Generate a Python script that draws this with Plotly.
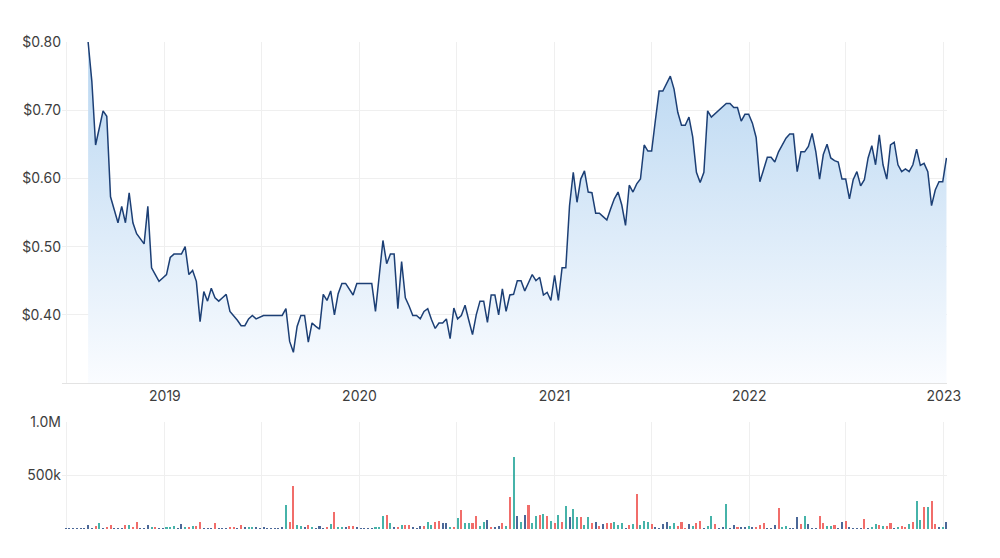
import pandas as pd
import plotly.graph_objects as go

# ---------------- data ----------------
price_start = "2018-08-10"   # weekly closes
price = [
    0.800, 0.742, 0.649, 0.674, 0.699, 0.691, 0.573, 0.554, 0.535, 0.559,
    0.535, 0.579, 0.535, 0.519, 0.512, 0.504, 0.559, 0.469, 0.459, 0.449,
    0.454, 0.459, 0.484, 0.489, 0.489, 0.489, 0.500, 0.459, 0.465, 0.449,
    0.390, 0.434, 0.420, 0.439, 0.425, 0.420, 0.425, 0.430, 0.405, 0.399,
    0.392, 0.384, 0.384, 0.394, 0.399, 0.394, 0.397, 0.399, 0.399, 0.399,
    0.399, 0.399, 0.399, 0.409, 0.361, 0.345, 0.383, 0.399, 0.399, 0.360,
    0.388, 0.383, 0.379, 0.430, 0.421, 0.435, 0.400, 0.431, 0.446, 0.446,
    0.437, 0.429, 0.446, 0.446, 0.446, 0.446, 0.446, 0.405, 0.457, 0.509,
    0.475, 0.489, 0.489, 0.409, 0.478, 0.425, 0.413, 0.399, 0.399, 0.394,
    0.405, 0.409, 0.393, 0.380, 0.388, 0.388, 0.394, 0.365, 0.410, 0.394,
    0.399, 0.414, 0.392, 0.371, 0.400, 0.420, 0.420, 0.389, 0.429, 0.429,
    0.400, 0.438, 0.405, 0.429, 0.430, 0.450, 0.450, 0.435, 0.447, 0.459,
    0.450, 0.455, 0.429, 0.433, 0.421, 0.458, 0.421, 0.469, 0.469, 0.560,
    0.609, 0.565, 0.599, 0.611, 0.580, 0.579, 0.549, 0.549, 0.544, 0.539,
    0.555, 0.570, 0.580, 0.561, 0.531, 0.590, 0.580, 0.592, 0.599, 0.649,
    0.640, 0.640, 0.685, 0.728, 0.728, 0.740, 0.750, 0.731, 0.697, 0.678,
    0.678, 0.690, 0.661, 0.609, 0.594, 0.609, 0.699, 0.690, 0.695, 0.699,
    0.705, 0.710, 0.710, 0.704, 0.704, 0.684, 0.694, 0.694, 0.681, 0.660,
    0.595, 0.613, 0.631, 0.631, 0.624, 0.639, 0.648, 0.659, 0.665, 0.665,
    0.610, 0.639, 0.639, 0.647, 0.666, 0.639, 0.599, 0.635, 0.650, 0.630,
    0.626, 0.624, 0.599, 0.599, 0.570, 0.598, 0.610, 0.589, 0.598, 0.630,
    0.648, 0.620, 0.664, 0.620, 0.599, 0.649, 0.653, 0.620, 0.610, 0.614,
    0.610, 0.620, 0.643, 0.619, 0.622, 0.610, 0.560, 0.583, 0.595, 0.595,
    0.630,
]

volume_start = "2018-06-29"  # weekly volume, in thousands of shares
volume_k = [
    6, 6, 6, 6, 6, 6, 41, 6, 25, 56,
    6, 20, 37, 6, 6, 6, 37, 37, 15, 62,
    6, 6, 37, 15, 15, 6, 6, 15, 15, 25,
    6, 44, 15, 15, 25, 25, 62, 6, 6, 6,
    56, 6, 6, 6, 15, 15, 6, 37, 15, 15,
    15, 15, 6, 15, 10, 10, 10, 10, 15, 225,
    62, 406, 37, 25, 15, 37, 15, 8, 25, 6,
    15, 44, 156, 15, 15, 15, 25, 25, 15, 6,
    6, 6, 6, 15, 15, 118, 134, 56, 15, 15,
    37, 37, 37, 15, 6, 25, 25, 66, 37, 62,
    78, 56, 56, 15, 15, 106, 175, 56, 56, 56,
    125, 25, 66, 87, 15, 15, 25, 56, 25, 297,
    675, 119, 66, 134, 228, 56, 125, 134, 144, 119,
    78, 56, 134, 66, 219, 109, 188, 115, 115, 37,
    109, 56, 66, 25, 44, 56, 56, 66, 37, 56,
    6, 37, 50, 328, 37, 78, 66, 50, 15, 5,
    50, 66, 25, 56, 25, 66, 8, 50, 25, 56,
    78, 6, 25, 125, 50, 8, 15, 238, 6, 37,
    15, 15, 15, 25, 15, 15, 37, 56, 6, 6,
    37, 197, 15, 25, 6, 6, 109, 50, 125, 50,
    6, 6, 125, 56, 25, 25, 37, 6, 66, 78,
    15, 6, 6, 6, 97, 6, 15, 50, 37, 25,
    25, 56, 6, 15, 25, 15, 50, 66, 266, 87,
    206, 206, 266, 50, 15, 15, 66,
]

# u = up week, d = down week, f = unchanged
volume_dir = [
    "f", "f", "f", "f", "f", "f", "f", "f", "d", "u",
    "f", "d", "d", "f", "f", "f", "d", "u", "d", "d",
    "f", "f", "f", "u", "d", "f", "f", "u", "u", "u",
    "f", "f", "u", "d", "u", "d", "d", "f", "f", "f",
    "d", "f", "f", "f", "d", "d", "f", "d", "f", "u",
    "u", "f", "f", "f", "f", "f", "f", "f", "f", "u",
    "d", "d", "u", "u", "f", "d", "u", "f", "f", "f",
    "d", "u", "d", "u", "u", "f", "d", "d", "f", "f",
    "f", "f", "f", "u", "u", "u", "d", "u", "f", "d",
    "u", "d", "d", "f", "f", "f", "d", "u", "u", "d",
    "d", "f", "f", "u", "d", "u", "d", "u", "u", "d",
    "d", "u", "u", "f", "d", "f", "f", "d", "u", "d",
    "u", "f", "u", "f", "d", "u", "u", "d", "u", "d",
    "u", "d", "u", "d", "u", "f", "u", "u", "d", "u",
    "u", "d", "f", "d", "f", "d", "d", "u", "u", "u",
    "f", "d", "u", "d", "u", "u", "u", "d", "f", "f",
    "f", "f", "u", "u", "d", "d", "d", "f", "u", "d",
    "d", "f", "u", "u", "d", "f", "f", "u", "f", "f",
    "d", "f", "f", "u", "f", "d", "d", "d", "f", "f",
    "f", "d", "u", "u", "f", "f", "f", "d", "u", "f",
    "f", "f", "d", "d", "u", "u", "d", "f", "f", "d",
    "f", "f", "f", "f", "d", "f", "u", "u", "d", "u",
    "d", "d", "f", "u", "d", "d", "u", "d", "u", "u",
    "d", "u", "d", "d", "f", "u", "f",
]

price_ticks = [0.40, 0.50, 0.60, 0.70, 0.80]
price_ticktext = ["$0.40", "$0.50", "$0.60", "$0.70", "$0.80"]
volume_ticks = [500000, 1000000]
volume_ticktext = ["500k", "1.0M"]
grid_dates = ["2018-07-01", "2019-01-01", "2019-07-01", "2020-01-01", "2020-07-01",
              "2021-01-01", "2021-07-01", "2022-01-01", "2022-07-01", "2023-01-01"]
grid_labels = ["", "2019", "", "2020", "", "2021", "", "2022", "", "2023"]
x_range = ["2018-06-22", "2023-01-07"]

# ---------------- figure ----------------
price_dates = pd.date_range(price_start, periods=len(price), freq="7D")
volume_dates = pd.date_range(volume_start, periods=len(volume_k), freq="7D")
volume = [v * 1000 for v in volume_k]
dir_colors = {"u": "rgba(38,166,154,0.85)", "d": "rgba(239,83,80,0.85)",
              "f": "rgba(44,78,134,0.85)"}
bar_colors = [dir_colors[d] for d in volume_dir]

GRID = "#efefef"
FONT = dict(family="Inter, 'Open Sans', sans-serif", size=14, color="#3d3d3d")

fig = go.Figure()
fig.add_trace(go.Scatter(
    x=price_dates, y=price, mode="lines",
    line=dict(color="#1c3f75", width=1.5),
    fill="tozeroy",
    fillgradient=dict(type="vertical", start=0.30, stop=0.80,
                      colorscale=[[0, "rgba(250,252,255,1)"], [1, "rgba(184,214,241,1)"]]),
    xaxis="x", yaxis="y", hoverinfo="x+y", showlegend=False,
))
fig.add_trace(go.Bar(
    x=volume_dates, y=volume, marker=dict(color=bar_colors, line=dict(width=0)),
    width=3.3e8, xaxis="x2", yaxis="y2", showlegend=False,
))

axis_common = dict(type="date", range=x_range, tickvals=grid_dates,
                   showgrid=True, gridcolor=GRID, gridwidth=1, zeroline=False,
                   ticks="", tickfont=FONT)
fig.update_layout(
    width=1000, height=558,
    margin=dict(l=62, r=53, t=42, b=29),
    paper_bgcolor="white", plot_bgcolor="white",
    bargap=0,
    xaxis=dict(**axis_common, ticktext=grid_labels, anchor="y",
               showline=True, linecolor="#e3e3e3", linewidth=1),
    yaxis=dict(domain=[0.2998, 1.0], range=[0.30, 0.80], tickvals=price_ticks,
               ticktext=price_ticktext, showgrid=True, gridcolor=GRID,
               zeroline=False, ticks="", tickfont=FONT, anchor="x"),
    xaxis2=dict(**axis_common, ticktext=grid_labels, showticklabels=False,
                anchor="y2"),
    yaxis2=dict(domain=[0.0, 0.2197], range=[0, 1000000], tickvals=volume_ticks,
                ticktext=volume_ticktext, showgrid=True, gridcolor=GRID,
                zeroline=False, ticks="", tickfont=FONT, anchor="x2"),
)

fig.write_html("out.html")
